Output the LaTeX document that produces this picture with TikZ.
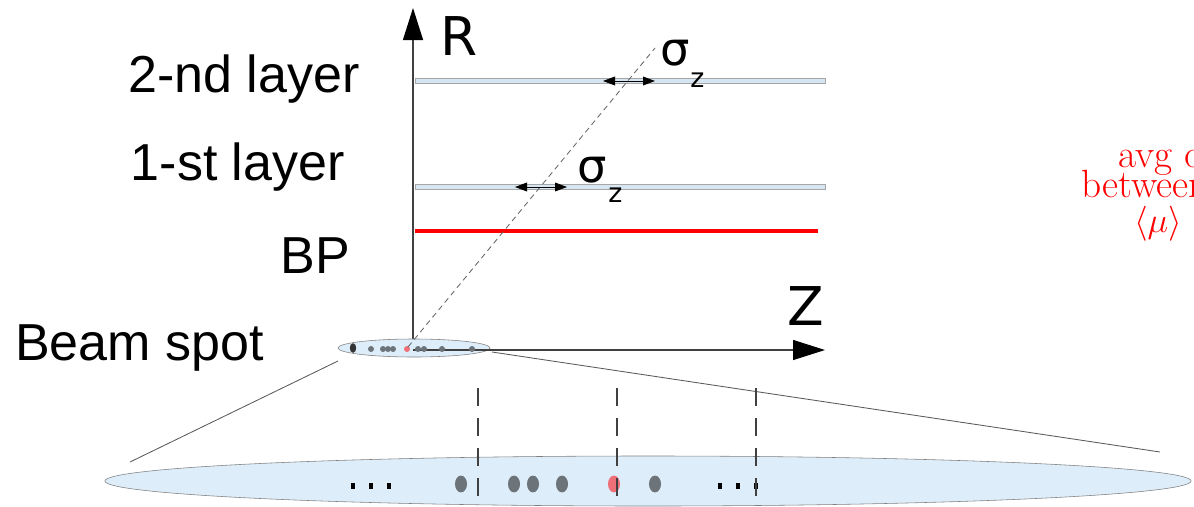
\documentclass[tikz,border=0pt]{standalone}
\usepackage{fontspec}
\setsansfont{Liberation Sans}
\newfontfamily\symfont{DejaVu Sans}
\usetikzlibrary{shapes.geometric, arrows.meta}
\definecolor{spotblue}{RGB}{221,237,249}
\definecolor{layerblue}{RGB}{214,230,242}
\definecolor{dotgray}{RGB}{108,116,122}
\definecolor{dotred}{RGB}{240,112,122}
\tikzstyle{txt} = [font=\sffamily\fontsize{37}{40}\selectfont, inner sep=0pt]
\tikzstyle{axlabel} = [font=\symfont\fontsize{38}{40}\selectfont, inner sep=0pt]
\tikzstyle{sig} = [font=\symfont\fontsize{33}{36}\selectfont, inner sep=0pt]
\tikzstyle{sub} = [font=\symfont\fontsize{19}{22}\selectfont, inner sep=0pt]
\tikzstyle{note} = [font=\fontsize{28}{30}\selectfont, text=red, inner sep=0pt]
\tikzstyle{layer} = [rectangle, draw=gray!70, fill=layerblue, minimum width=10.25cm, minimum height=0.13cm, inner sep=0pt, anchor=west]
\tikzstyle{spot} = [ellipse, draw=gray, fill=spotblue, inner sep=0pt]
\tikzstyle{vtx} = [ellipse, fill=dotgray, minimum width=0.3cm, minimum height=0.42cm, inner sep=0pt]
\tikzstyle{smallvtx} = [circle, fill=dotgray, minimum size=0.15cm, inner sep=0pt]
\tikzstyle{dotsq} = [rectangle, fill=black, minimum width=0.12cm, minimum height=0.17cm, inner sep=0pt]
\tikzstyle{axis} = [draw=gray!50!black, line width=0.8pt, -{Triangle[length=0.8cm,width=0.5cm,color=black]}]
\tikzstyle{spread} = [<->, >={Triangle[length=0.3cm,width=0.22cm]}, line width=0.6pt]
\tikzstyle{cut} = [draw=gray!50!black, line width=1.4pt, dash pattern=on 0.45cm off 0.3cm]

\begin{document}
\begin{tikzpicture}[x=0.025cm, y=-0.025cm]
    \useasboundingbox (0,0) rectangle (1194,506);

    % labels on the left
    \node (l2) [txt, anchor=base east] at (360,92) {2-nd layer};
    \node (l1) [txt, anchor=base east] at (345,180) {1-st layer};
    \node (lbp) [txt, anchor=base east] at (350,273) {BP};
    \node (lbs) [txt, anchor=base west] at (15,360) {Beam spot};

    % layers and beam pipe
    \node (layer2) [layer] at (415,81) {};
    \node (layer1) [layer] at (415,187) {};
    \coordinate (bpL) at (415,231);
    \coordinate (bpR) at (818,231);
    \draw [red, line width=2.8pt] (bpL) -- (bpR);

    % axes
    \coordinate (origin) at (413,350);
    \coordinate (rtop) at (413,8);
    \coordinate (zend) at (825,350);
    \draw [axis] (origin) -- (rtop);
    \node (rlabel) [axlabel, anchor=base west] at (440,55) {R};
    \node (zlabel) [axlabel, anchor=base west] at (787,325) {Z};

    % beam spot
    \node (spot) [spot, minimum width=3.8cm, minimum height=0.45cm] at (414,348) {};
    \draw [axis] (origin) -- (zend);
    \node (s0) [ellipse, fill=black!80, minimum width=0.16cm, minimum height=0.24cm, inner sep=0pt] at (353,348) {};
    \foreach \x/\n in {371/s1, 383/s2, 388/s3, 393/s4, 418/s5, 424/s6, 442/s7, 472/s8}
        \node (\n) [smallvtx] at (\x,349) {};
    \node (sred) [smallvtx, fill=dotred] at (407,349) {};

    % track
    \coordinate (tstart) at (408,347);
    \coordinate (tend) at (655,48);
    \draw [gray!80!black, dashed, dash pattern=on 0.14cm off 0.1cm, line width=0.6pt] (tstart) -- (tend);

    % sigma_z
    \coordinate (a2L) at (603,81);
    \coordinate (a2R) at (655,81);
    \coordinate (a1L) at (515,187);
    \coordinate (a1R) at (567,187);
    \draw [spread] (a2L) -- (a2R);
    \draw [spread] (a1L) -- (a1R);
    \node (sig2) [sig, anchor=base west] at (660,65) {σ};
    \node (sub2) [sub, anchor=base west] at (690,87) {z};
    \node (sig1) [sig, anchor=base west] at (577,182) {σ};
    \node (sub1) [sub, anchor=base west] at (608,202) {z};

    % zoom of the beam spot
    \node (zoom) [spot, minimum width=27.15cm, minimum height=1.25cm] at (648,481) {};
    \coordinate (zl1) at (338,361);
    \coordinate (zl2) at (130,462);
    \coordinate (zr1) at (492,352);
    \coordinate (zr2) at (1160,452);
    \draw [gray!70!black, line width=0.6pt] (zl1) -- (zl2);
    \draw [gray!70!black, line width=0.6pt] (zr1) -- (zr2);

    \foreach \x/\n in {461/v1, 514/v2, 533/v3, 562/v4, 655/v5}
        \node (\n) [vtx] at (\x,484) {};
    \node (vred) [vtx, fill=dotred] at (614,484) {};
    \foreach \x/\n in {353/d1, 371/d2, 389/d3, 720/d4, 738/d5, 756/d6}
        \node (\n) [dotsq] at (\x,486) {};

    \foreach \x/\n in {478/c1, 617/c2, 756/c3} {
        \coordinate (\n top) at (\x,388);
        \coordinate (\n bot) at (\x,506);
        \draw [cut] (\n top) -- (\n bot);
    }

    % note on the right
    \node (n1) [note, anchor=base west] at (1118,167) {avg distance};
    \node (n2) [note, anchor=base west] at (1081,197) {between};
    \node (n3) [note] at (1158,224) {$\langle\mu\rangle$};

\end{tikzpicture}
\end{document}
